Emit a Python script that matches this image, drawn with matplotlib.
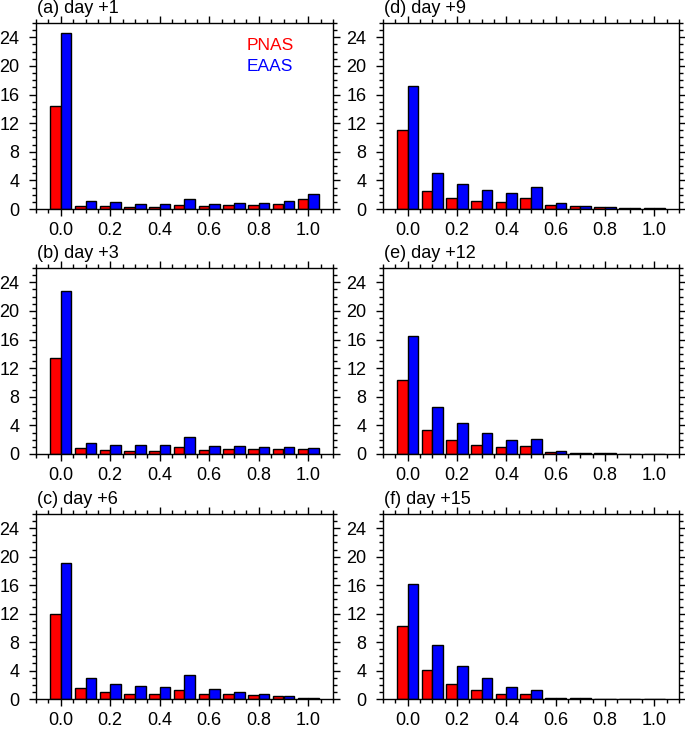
import numpy as np
import matplotlib
matplotlib.use("Agg")
import matplotlib.pyplot as plt
from matplotlib.ticker import MultipleLocator

plt.rcParams['font.family'] = ['Liberation Sans', 'DejaVu Sans']

# bins of the histogram
bins = [0.0, 0.1, 0.2, 0.3, 0.4, 0.5, 0.6, 0.7, 0.8, 0.9, 1.0]

titles = ["(a) day +1", "(b) day +3", "(c) day +6",
          "(d) day +9", "(e) day +12", "(f) day +15"]

# PNAS values (red) per panel
pnas_a = [14.35, 0.42, 0.37, 0.33, 0.28, 0.60, 0.37, 0.56, 0.56, 0.70, 1.40]
pnas_b = [13.40, 0.80, 0.52, 0.42, 0.42, 0.94, 0.61, 0.70, 0.66, 0.75, 0.66]
pnas_c = [12.00, 1.50, 0.99, 0.75, 0.70, 1.27, 0.66, 0.70, 0.56, 0.42, 0.19]
pnas_d = [11.06, 2.53, 1.55, 1.12, 0.98, 1.55, 0.56, 0.42, 0.28, 0.15, 0.08]
pnas_e = [10.40, 3.39, 1.93, 1.27, 0.99, 1.18, 0.33, 0.19, 0.09, 0.05, 0.02]
pnas_f = [10.26, 4.05, 2.07, 1.22, 0.75, 0.70, 0.15, 0.08, 0.04, 0.02, 0.01]

# EAAS values (blue) per panel
eaas_a = [24.66, 1.17, 0.98, 0.75, 0.75, 1.45, 0.75, 0.80, 0.84, 1.12, 2.10]
eaas_b = [22.80, 1.50, 1.32, 1.22, 1.22, 2.35, 1.08, 1.18, 0.94, 0.94, 0.80]
eaas_c = [19.15, 3.00, 2.07, 1.84, 1.70, 3.34, 1.41, 1.04, 0.66, 0.38, 0.15]
eaas_d = [17.20, 5.10, 3.50, 2.72, 2.30, 3.10, 0.84, 0.42, 0.23, 0.15, 0.08]
eaas_e = [16.50, 6.59, 4.28, 2.96, 2.02, 2.07, 0.38, 0.19, 0.09, 0.05, 0.02]
eaas_f = [16.19, 7.58, 4.70, 2.96, 1.69, 1.32, 0.15, 0.08, 0.04, 0.02, 0.01]

pnas = [pnas_a, pnas_b, pnas_c, pnas_d, pnas_e, pnas_f]
eaas = [eaas_a, eaas_b, eaas_c, eaas_d, eaas_e, eaas_f]

W, H = 685, 731
fig = plt.figure(figsize=(W / 100, H / 100), dpi=100)

# axes boxes in pixels (left, right) per column and (top, bottom) per row
cols = [(36, 333), (383, 679)]
rows = [(23, 209), (268, 454), (514, 699)]

x = np.array(bins)
bw = 0.043
for i in range(6):
    c, r = i // 3, i % 3
    l, rr = cols[c]
    t, b = rows[r]
    ax = fig.add_axes([l / W, 1 - b / H, (rr - l) / W, (b - t) / H])
    ax.bar(x - bw / 2, pnas[i], width=bw, color='red', edgecolor='black', linewidth=1.0)
    ax.bar(x + bw / 2, eaas[i], width=bw, color='blue', edgecolor='black', linewidth=1.0)
    ax.set_xlim(-0.1, 1.1)
    ax.set_ylim(0, 26)
    ax.xaxis.set_major_locator(MultipleLocator(0.2))
    ax.xaxis.set_minor_locator(MultipleLocator(0.05))
    ax.yaxis.set_major_locator(MultipleLocator(4))
    ax.yaxis.set_minor_locator(MultipleLocator(1))
    ax.xaxis.set_major_formatter(plt.FuncFormatter(lambda v, p: f"{v:.1f}"))
    ax.tick_params(which='both', direction='out', top=True, right=True,
                   labelsize=13, width=1.0)
    ax.tick_params(which='major', length=5)
    ax.tick_params(axis='y', which='major', pad=7)
    ax.tick_params(axis='x', which='major', pad=4.5)
    ax.tick_params(which='minor', length=3)
    for s in ax.spines.values():
        s.set_linewidth(1.0)
    ax.text(0.003, 1.055, titles[i], transform=ax.transAxes, fontsize=13,
            ha='left', va='baseline')
    if i == 0:
        ax.text(0.71, 0.88, "PNAS", color='red', fontsize=12.5,
                transform=ax.transAxes, ha='left', va='center')
        ax.text(0.71, 0.765, "EAAS", color='blue', fontsize=12.5,
                transform=ax.transAxes, ha='left', va='center')

fig.savefig("out.png", dpi=100)
